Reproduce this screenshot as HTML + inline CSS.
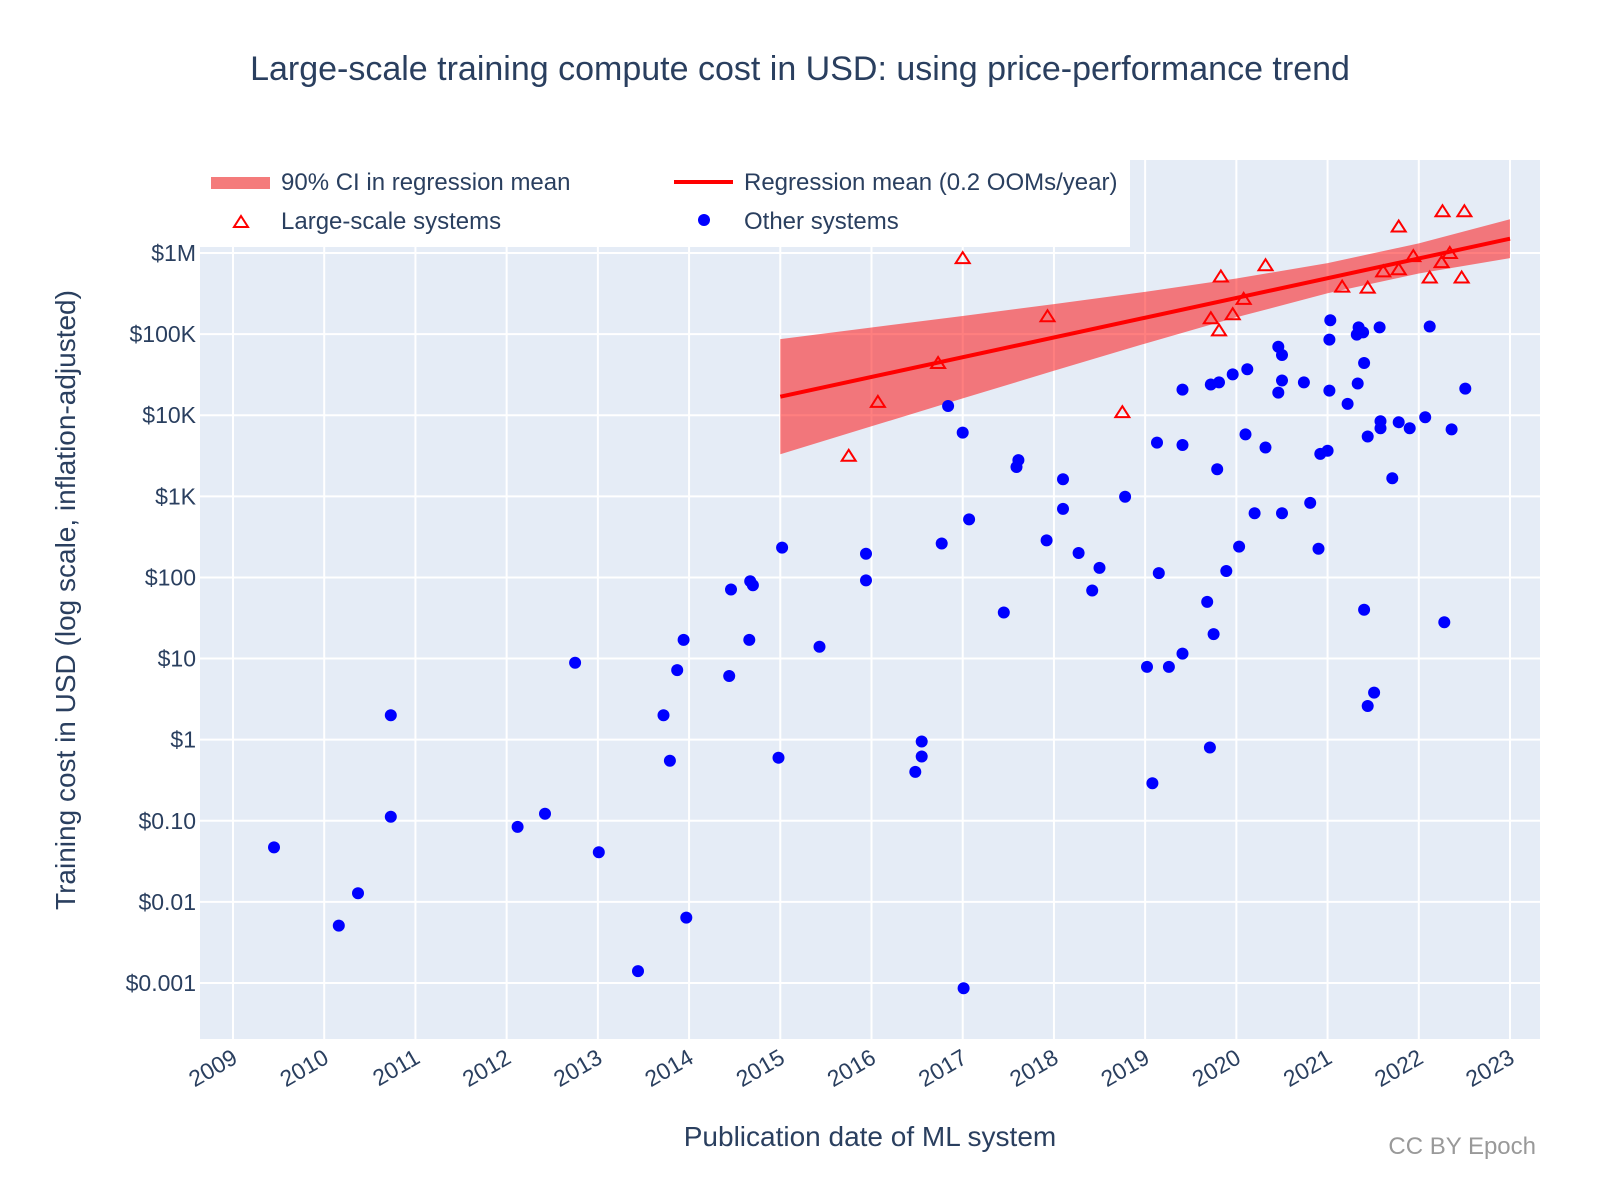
<!DOCTYPE html>
<html><head><meta charset="utf-8">
<style>
html,body{margin:0;padding:0;background:#fff;}
svg{display:block;font-family:"Liberation Sans",Arial,sans-serif;}
</style></head>
<body>
<svg id="chart" width="1600" height="1200" viewBox="0 0 1600 1200">
  <rect x="0" y="0" width="1600" height="1200" fill="#fff"/>
  <text x="800" y="80" text-anchor="middle" font-size="34" fill="#2a3f5f">Large-scale training compute cost in USD: using price-performance trend</text>
  <rect x="200" y="160" width="1340" height="879" fill="#e5ecf6"/>
  <g id="grid"></g>
  <g id="band"></g>
  <g id="marks"></g>
  <g id="legend">
    <rect x="200" y="160" width="930" height="87" fill="#fff"/>
    <rect x="211" y="177" width="59" height="12" fill="#f47b7b"/>
    <text x="281" y="190" font-size="24" fill="#2a3f5f">90% CI in regression mean</text>
    <line x1="674" y1="182" x2="733" y2="182" stroke="#ff0000" stroke-width="4"/>
    <text x="744" y="190" font-size="24" fill="#2a3f5f">Regression mean (0.2 OOMs/year)</text>
    <path d="M241 216 L248 227 L234 227 Z" fill="none" stroke="#ff0000" stroke-width="2"/>
    <text x="281" y="229" font-size="24" fill="#2a3f5f">Large-scale systems</text>
    <circle cx="704" cy="220" r="6" fill="#0000ff"/>
    <text x="744" y="229" font-size="24" fill="#2a3f5f">Other systems</text>
  </g>
  <g id="ticks"></g>
  <text x="870" y="1146" text-anchor="middle" font-size="28" fill="#2a3f5f">Publication date of ML system</text>
  <text transform="translate(75,600) rotate(-90)" text-anchor="middle" font-size="28" fill="#2a3f5f">Training cost in USD (log scale, inflation-adjusted)</text>
  <text x="1536" y="1154" text-anchor="end" font-size="24" fill="#999999">CC BY Epoch</text>
</svg>
<script>
const xTickYears = [2009,2010,2011,2012,2013,2014,2015,2016,2017,2018,2019,2020,2021,2022,2023];
const yTickValues = [0.001,0.01,0.1,1,10,100,1000,10000,100000,1000000];
const yTickLabels = ["$0.001","$0.01","$0.10","$1","$10","$100","$1K","$10K","$100K","$1M"];

const ciYears = [2015,2016,2017,2018,2019,2020,2021,2022,2023];
const ciUpper = [86700,120500,167100,234400,331900,484200,749900,1315000,2600000];
const ciLower = [3296,7295,16110,35320,76380,161100,318400,558500,865000];
const meanYears = [2015,2023];
const meanValues = [16900,1500000];

const otherDates = [2009.45,2010.16,2010.37,2010.73,2010.73,2012.12,2012.42,2012.75,2013.01,2013.44,2013.72,2013.79,2013.87,2013.94,2013.97,2014.44,2014.46,2014.66,2014.67,2014.70,2014.98,2015.02,2015.43,2015.94,2015.94,2016.48,2016.55,2016.55,2016.77,2016.84,2017.00,2017.01,2017.07,2017.45,2017.59,2017.61,2017.92,2018.10,2018.10,2018.27,2018.42,2018.50,2018.78,2019.02,2019.08,2019.13,2019.15,2019.26,2019.41,2019.41,2019.41,2019.68,2019.71,2019.72,2019.75,2019.79,2019.81,2019.89,2019.96,2020.03,2020.10,2020.12,2020.20,2020.32,2020.46,2020.46,2020.50,2020.50,2020.50,2020.74,2020.81,2020.90,2020.92,2021.00,2021.02,2021.02,2021.03,2021.22,2021.32,2021.33,2021.34,2021.39,2021.40,2021.40,2021.44,2021.44,2021.51,2021.57,2021.58,2021.58,2021.71,2021.78,2021.90,2022.07,2022.12,2022.28,2022.36,2022.51];
const otherCosts = [0.047,0.0051,0.0128,2.0,0.112,0.084,0.122,8.9,0.041,0.0014,2.0,0.55,7.2,17,0.0064,6.1,71,17,90,80,0.60,233,14,196,92,0.40,0.95,0.62,262,13000,6100,0.00086,520,37,2300,2800,286,1620,700,200,69,131,990,7.9,0.29,4600,113,7.9,20700,4300,11.5,50,0.80,23900,20,2160,25400,120,31900,240,5800,36900,620,4000,69800,19000,55300,26800,620,25400,830,226,3340,3650,85500,20100,148000,13800,98600,24600,121000,105000,44000,40,5470,2.6,3.8,121000,8430,6890,1670,8200,6890,9460,124000,28,6690,21300];

const largeDates = [2015.75,2016.07,2016.73,2017.00,2017.93,2018.75,2019.72,2019.81,2019.83,2019.96,2020.08,2020.32,2021.16,2021.44,2021.61,2021.78,2021.78,2021.94,2022.12,2022.25,2022.26,2022.34,2022.47,2022.50];
const largeCosts = [3160,14600,44000,865000,166000,10900,157000,111000,514000,176000,272000,706000,385000,374000,594000,2120000,630000,916000,499000,771000,3270000,1000000,499000,3270000];

const NS = "http://www.w3.org/2000/svg";
function X(yr){ return 233 + (yr-2009)*(1510-233)/14; }
function Y(v){ return 253 + (6-Math.log10(v))*(983-253)/9; }
function mk(tag, attrs, parent){ const e=document.createElementNS(NS,tag); for(const k in attrs) e.setAttribute(k,attrs[k]); parent.appendChild(e); return e; }

const grid=document.getElementById('grid'), ticks=document.getElementById('ticks'), band=document.getElementById('band'), marks=document.getElementById('marks');

xTickYears.forEach(yr=>{
  const gx=X(yr);
  const l=mk('line',{x1:gx,y1:160,x2:gx,y2:1039,stroke:'#fff','stroke-width':2},grid);
  
  
  const t=mk('text',{x:0,y:0,'text-anchor':'end','font-size':23,fill:'#2a3f5f',transform:'translate('+(gx+6)+',1062) rotate(-30)'},ticks);
  t.textContent=String(yr);
  
  
});
yTickValues.forEach((v,i)=>{
  const gy=Y(v);
  const l=mk('line',{x1:200,y1:gy,x2:1540,y2:gy,stroke:'#fff','stroke-width':2},grid);
  
  
  const t=mk('text',{x:196,y:gy+8,'text-anchor':'end','font-size':23,fill:'#2a3f5f'},ticks);
  t.textContent=yTickLabels[i];
  
  
});

let d='';
ciYears.forEach((yr,i)=>{ d+=(i?'L':'M')+X(yr).toFixed(1)+' '+Y(ciUpper[i]).toFixed(1)+' '; });
for(let i=ciYears.length-1;i>=0;i--){ d+='L'+X(ciYears[i]).toFixed(1)+' '+Y(ciLower[i]).toFixed(1)+' '; }
d+='Z';
const area=mk('path',{d:d,fill:'#ff0000','fill-opacity':0.5},band);


const meanPts=meanYears.map((yr,i)=>X(yr).toFixed(1)+','+Y(meanValues[i]).toFixed(1)).join(' ');
const ml=mk('polyline',{points:meanPts,fill:'none',stroke:'#ff0000','stroke-width':4},band);



otherDates.forEach((yr,i)=>{
  const c=mk('circle',{cx:X(yr).toFixed(1),cy:Y(otherCosts[i]).toFixed(1),r:6,fill:'#0000ff'},marks);
  
  
});
largeDates.forEach((yr,i)=>{
  const cx=X(yr), cy=Y(largeCosts[i]);
  const p=mk('path',{d:'M'+cx+' '+(cy-6)+' L'+(cx+7)+' '+(cy+5)+' L'+(cx-7)+' '+(cy+5)+' Z',fill:'none',stroke:'#ff0000','stroke-width':2},marks);
  
  
});
</script>
</body></html>
